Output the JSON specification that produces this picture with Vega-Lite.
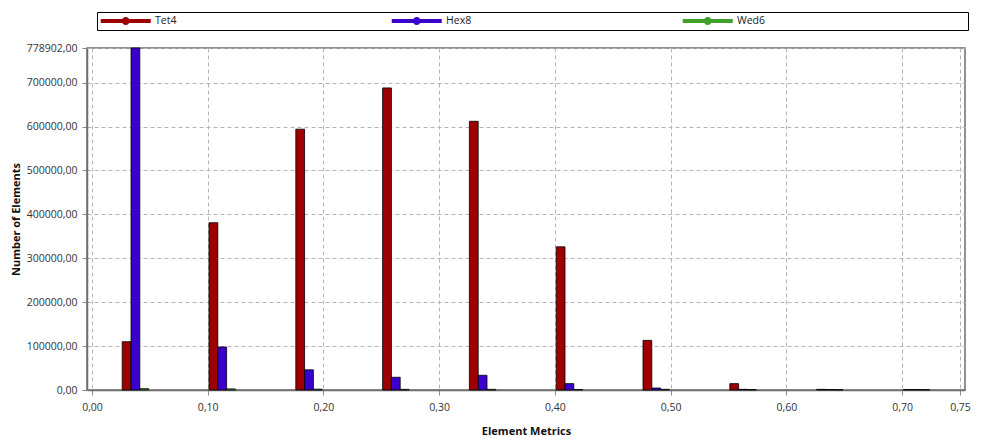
{
  "$schema": "https://vega.github.io/schema/vega-lite/v6.json",
  "width": 878,
  "height": 342,
  "autosize": {"type": "none"},
  "padding": {"left": 87, "top": 48, "right": 18, "bottom": 49},
  "background": "white",
  "data": {
    "values": [
      {"metric": 0.0375, "mesh": "Tet4", "count": 110000},
      {"metric": 0.1125, "mesh": "Tet4", "count": 381000},
      {"metric": 0.1875, "mesh": "Tet4", "count": 594000},
      {"metric": 0.2625, "mesh": "Tet4", "count": 688000},
      {"metric": 0.3375, "mesh": "Tet4", "count": 612000},
      {"metric": 0.4125, "mesh": "Tet4", "count": 326000},
      {"metric": 0.4875, "mesh": "Tet4", "count": 113000},
      {"metric": 0.5625, "mesh": "Tet4", "count": 14500},
      {"metric": 0.6375, "mesh": "Tet4", "count": 1500},
      {"metric": 0.7125, "mesh": "Tet4", "count": 1200},
      {"metric": 0.0375, "mesh": "Hex8", "count": 778902},
      {"metric": 0.1125, "mesh": "Hex8", "count": 98000},
      {"metric": 0.1875, "mesh": "Hex8", "count": 46000},
      {"metric": 0.2625, "mesh": "Hex8", "count": 29000},
      {"metric": 0.3375, "mesh": "Hex8", "count": 33500},
      {"metric": 0.4125, "mesh": "Hex8", "count": 14500},
      {"metric": 0.4875, "mesh": "Hex8", "count": 4500},
      {"metric": 0.5625, "mesh": "Hex8", "count": 1500},
      {"metric": 0.6375, "mesh": "Hex8", "count": 1200},
      {"metric": 0.7125, "mesh": "Hex8", "count": 1000},
      {"metric": 0.0375, "mesh": "Wed6", "count": 3000},
      {"metric": 0.1125, "mesh": "Wed6", "count": 2500},
      {"metric": 0.1875, "mesh": "Wed6", "count": 1800},
      {"metric": 0.2625, "mesh": "Wed6", "count": 1500},
      {"metric": 0.3375, "mesh": "Wed6", "count": 1500},
      {"metric": 0.4125, "mesh": "Wed6", "count": 1200},
      {"metric": 0.4875, "mesh": "Wed6", "count": 1500},
      {"metric": 0.5625, "mesh": "Wed6", "count": 1000},
      {"metric": 0.6375, "mesh": "Wed6", "count": 800},
      {"metric": 0.7125, "mesh": "Wed6", "count": 800}
    ]
  },
  "encoding": {
    "x": {
      "field": "metric",
      "type": "quantitative",
      "scale": {"domain": [0, 0.75], "nice": false, "zero": true},
      "axis": {
        "title": "Element Metrics",
        "values": [0, 0.1, 0.2, 0.3, 0.4, 0.5, 0.6, 0.7, 0.75],
        "labelExpr": "replace(format(datum.value, '.2f'), '.', ',')",
        "labelPadding": 7,
        "titlePadding": 13,
        "labelFlush": false
      }
    },
    "y": {
      "field": "count",
      "type": "quantitative",
      "stack": null,
      "scale": {"domain": [0, 778902], "nice": false},
      "axis": {
        "title": "Number of Elements",
        "values": [0, 100000, 200000, 300000, 400000, 500000, 600000, 700000, 778902],
        "labelExpr": "replace(format(datum.value, '.2f'), '.', ',')",
        "labelPadding": 5,
        "titlePadding": 5,
        "labelFlush": false
      }
    },
    "color": {
      "field": "mesh",
      "type": "nominal",
      "scale": {"domain": ["Tet4", "Hex8", "Wed6"], "range": ["#9c0000", "#3a00cc", "#3fa02a"]},
      "legend": {
        "title": "\u00a0",
        "titleOrient": "right",
        "titlePadding": 199,
        "orient": "none",
        "legendX": 10,
        "legendY": -36,
        "direction": "horizontal",
        "columns": 3,
        "gridAlign": "all",
        "columnPadding": 208,
        "padding": 3.5,
        "strokeColor": "#000000",
        "symbolType": "M-1,-0.4H9V0.4H-1Z M3.2,0A0.8,0.8,0,1,1,4.8,0A0.8,0.8,0,1,1,3.2,0Z",
        "symbolSize": 100,
        "symbolStrokeWidth": 0,
        "symbolOpacity": 1,
        "labelOffset": 44,
        "labelLimit": 400,
        "labelFontSize": 10.5,
        "labelColor": "#222222"
      }
    }
  },
  "layer": [
    {
      "transform": [{"filter": "datum.mesh == 'Tet4'"}],
      "mark": {"type": "bar", "width": 8.8, "xOffset": -8.8, "stroke": "#000000", "strokeWidth": 0.8}
    },
    {
      "transform": [{"filter": "datum.mesh == 'Hex8'"}],
      "mark": {"type": "bar", "width": 8.8, "xOffset": 0, "stroke": "#000000", "strokeWidth": 0.8}
    },
    {
      "transform": [{"filter": "datum.mesh == 'Wed6'"}],
      "mark": {"type": "bar", "width": 8.8, "xOffset": 8.8, "stroke": "#000000", "strokeWidth": 0.8}
    }
  ],
  "config": {
    "font": "Open Sans",
    "view": {"stroke": "#6e6e6e", "strokeWidth": 1.5},
    "axis": {
      "labelFont": "Open Sans",
      "labelFontSize": 10.5,
      "labelColor": "#333333",
      "titleFont": "Open Sans",
      "titleFontSize": 11,
      "titleFontWeight": "bold",
      "titleColor": "#111111",
      "gridColor": "#b4b4b4",
      "gridDash": [4, 3],
      "gridWidth": 1,
      "domainColor": "#6e6e6e",
      "domainWidth": 1.5,
      "tickColor": "#8a8a8a",
      "tickSize": 5
    },
    "legend": {"labelFont": "Open Sans"}
  }
}
